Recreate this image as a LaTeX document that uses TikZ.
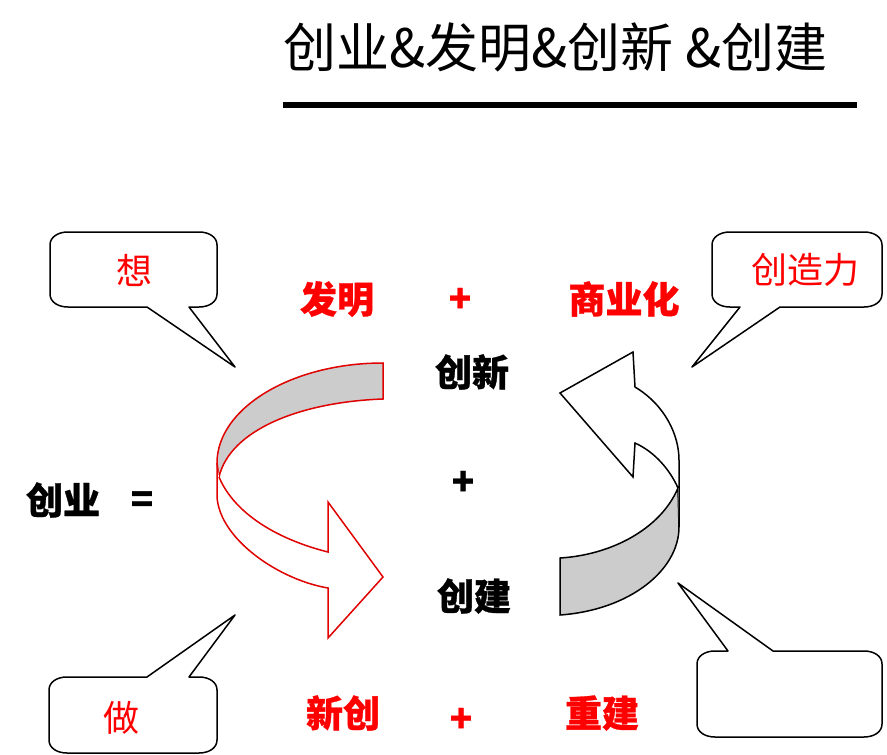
\documentclass[tikz,border=0pt]{standalone}
\usepackage{fontspec}
\newfontfamily\cjk{Noto Sans CJK SC}
\newfontfamily\cjkheavy[BoldFeatures={FakeBold=0.8}]{Noto Sans CJK SC}
\definecolor{bandgray}{HTML}{CCCCCC}
\definecolor{arrowred}{HTML}{E00000}
\definecolor{txtred}{HTML}{FF0000}
\tikzset{
  boldlbl/.style={inner sep=0pt, font=\cjkheavy\bfseries\fontsize{37}{37}\selectfont},
  redlbl/.style={boldlbl, text=txtred},
  blacklbl/.style={boldlbl, text=black},
  bubbletxt/.style={inner sep=0pt, text=txtred, font=\cjk\fontsize{36}{36}\selectfont},
  bubble/.style={draw=black, line width=1.5pt, fill=white, line join=round},
  redband/.style={draw=arrowred, line width=1.5pt, line join=miter},
  blackband/.style={draw=black, line width=1.5pt, line join=miter},
}
\begin{document}
\begin{tikzpicture}[x=1pt,y=-1pt]
\useasboundingbox (0,0) rectangle (887,755);
% title
\node[inner sep=0pt, anchor=west, font=\cjk\fontsize{53}{53}\selectfont] (title) at (283,47) {创业\&发明\&创新 \&创建};
\coordinate (ulA) at (283,105);
\coordinate (ulB) at (857,105);
\draw[line width=6pt] (ulA) -- (ulB);

% callouts
\draw[bubble] (68,232) -- (199,232) .. controls (209,232) and (217,237) .. (217,245) -- (217,294) .. controls (217,302) and (209,307) .. (199,307) -- (189,307) -- (235,367) -- (147,307) -- (68,307) .. controls (58,307) and (50,302) .. (50,294) -- (50,245) .. controls (50,237) and (58,232) .. (68,232) -- cycle;
\draw[bubble] (730,232) -- (864,232) .. controls (874,232) and (882,237) .. (882,245) -- (882,294) .. controls (882,302) and (874,307) .. (864,307) -- (780,307) -- (692,367) -- (740,307) -- (730,307) .. controls (720,307) and (712,302) .. (712,294) -- (712,245) .. controls (712,237) and (720,232) .. (730,232) -- cycle;
\draw[bubble] (67,677) -- (147,677) -- (235,615) -- (189,677) -- (199,677) .. controls (209,677) and (217,682) .. (217,690) -- (217,740) .. controls (217,748) and (209,753) .. (199,753) -- (67,753) .. controls (57,753) and (49,748) .. (49,740) -- (49,690) .. controls (49,682) and (57,677) .. (67,677) -- cycle;
\draw[bubble] (715,651) -- (728,651) -- (678,583) -- (773,651) -- (864,651) .. controls (874,651) and (882,656) .. (882,664) -- (882,724) .. controls (882,732) and (874,737) .. (864,737) -- (715,737) .. controls (705,737) and (697,732) .. (697,724) -- (697,664) .. controls (697,656) and (705,651) .. (715,651) -- cycle;

\node[bubbletxt] (xiang) at (134,270) {想};
\node[bubbletxt] (chuangzaoli) at (805,270) {创造力};
\node[bubbletxt] (zuo) at (121,718) {做};

% left curved arrow
\filldraw[redband, fill=bandgray] (383,363) .. controls (292,363) and (217,408) .. (217,463) -- (219,477) .. controls (230,430) and (300,402) .. (383,399) -- cycle;
\draw[redband, fill=white] (219,477) .. controls (235,515) and (280,540) .. (328,552) -- (328,502) -- (383,577) -- (328,638) -- (328,588) .. controls (280,580) and (220,540) .. (217,497) -- (217,463);

% right curved arrow
\filldraw[blackband, fill=bandgray] (560,558) -- (560,615) .. controls (630,610) and (679,570) .. (679,527) -- (678,488) .. controls (660,530) and (610,555) .. (560,558) -- cycle;
\draw[blackband, fill=white] (678,488) .. controls (670,470) and (655,452) .. (635,443) -- (633,477) -- (560,393) -- (633,352) -- (635,387) .. controls (665,405) and (679,435) .. (679,460) -- (679,527);

% labels
\node[redlbl] (faming) at (337,299) {发明};
\node[redlbl] (plus1) at (460,300) {+};
\node[redlbl] (shangyehua) at (624,299) {商业化};
\node[blacklbl] (chuangxin) at (472,372) {创新};
\node[blacklbl] (plus2) at (463,483) {+};
\node[blacklbl] (chuangye) at (63,500) {创业};
\node[blacklbl] (eq) at (142,502) {=};
\node[blacklbl] (chuangjian) at (474,596) {创建};
\node[redlbl] (xinchuang) at (343,713) {新创};
\node[redlbl] (plus3) at (461,720) {+};
\node[redlbl] (chongjian) at (602,713) {重建};
\end{tikzpicture}
\end{document}
